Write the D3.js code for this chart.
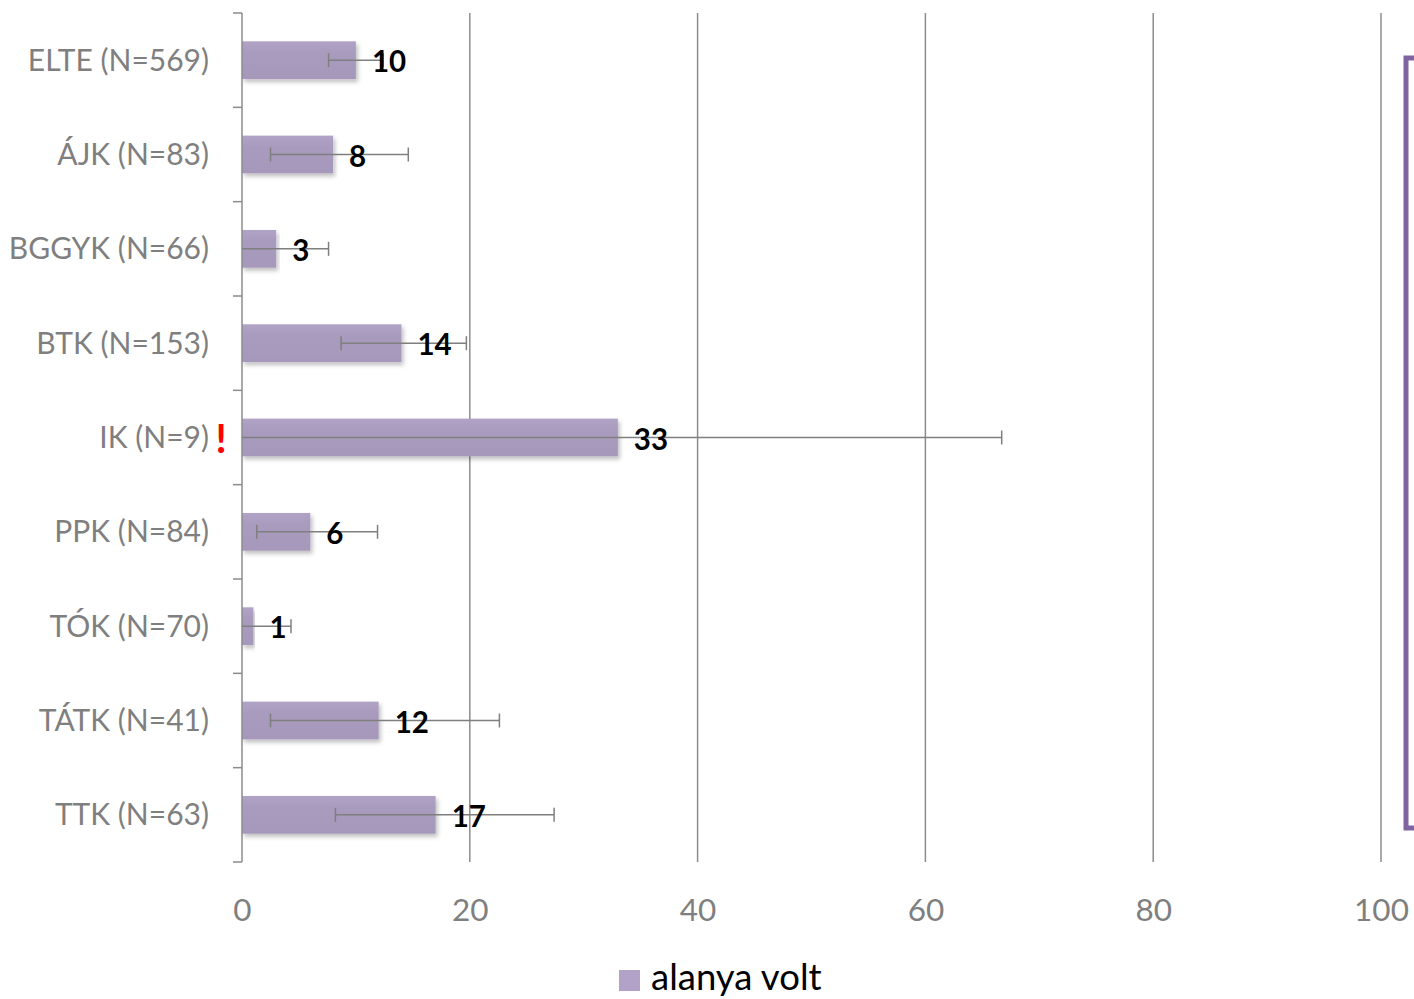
<!DOCTYPE html>
<html><head><meta charset="utf-8">
<script src="https://cdn.jsdelivr.net/npm/d3@7"></script>
<style>body{margin:0;background:#fff}svg{display:block}</style>
</head><body>
<svg id="c" width="1414" height="999"></svg>
<script>
const categories = ["ELTE (N=569)","ÁJK (N=83)","BGGYK (N=66)","BTK (N=153)","IK (N=9)","PPK (N=84)","TÓK (N=70)","TÁTK (N=41)","TTK (N=63)"];
const values = [10, 8, 3, 14, 33, 6, 1, 12, 17];
const errLow = [7.6, 2.5, 0, 8.7, 0, 1.3, 0, 2.5, 8.2];
const errHigh = [12.4, 14.6, 7.6, 19.7, 66.7, 11.9, 4.3, 22.6, 27.4];
const xTicks = [0, 20, 40, 60, 80, 100];
const seriesName = "alanya volt";
const flagged = ["IK (N=9)"];

const svg = d3.select("#c");
const m = {l: 242, r: 1381, t: 13, b: 862};
const x = d3.scaleLinear().domain([0, 100]).range([m.l, m.r]);
const y = d3.scaleBand().domain(categories).range([m.t, m.b]).paddingInner(0.6).paddingOuter(0.3);
const yb = d3.scaleBand().domain(categories).range([m.t, m.b]);
const font = "Lato, 'Open Sans', sans-serif";

const defs = svg.append("defs");
const f = defs.append("filter").attr("id","sh").attr("x","-5%").attr("y","-20%").attr("width","115%").attr("height","160%");
f.append("feDropShadow").attr("dx",2).attr("dy",3).attr("stdDeviation",2).attr("flood-color","#000").attr("flood-opacity",0.25);
const g1 = defs.append("linearGradient").attr("id","bg").attr("x1",0).attr("y1",0).attr("x2",0).attr("y2",1);
g1.append("stop").attr("offset","0").attr("stop-color","#b1a3c6");
g1.append("stop").attr("offset","0.3").attr("stop-color","#a99bbe");
g1.append("stop").attr("offset","1").attr("stop-color","#a698bb");

// gridlines
svg.append("g").selectAll("line").data(xTicks.filter(d => d > 0)).join("line")
  .attr("x1", d => x(d)).attr("x2", d => x(d)).attr("y1", m.t).attr("y2", m.b)
  .attr("stroke", "#8c8c8c").attr("stroke-width", 1.5);

// bars
svg.append("g").selectAll("rect").data(categories).join("rect")
  .attr("x", x(0)).attr("y", d => y(d))
  .attr("width", (d, i) => x(values[i]) - x(0)).attr("height", y.bandwidth())
  .attr("fill", "url(#bg)").attr("filter", "url(#sh)");

// y axis
const ya = d3.axisLeft(yb).tickSize(0).tickFormat("");
const yg = svg.append("g").attr("transform", `translate(${m.l},0)`).call(ya);
yg.select(".domain").attr("stroke", "#8c8c8c").attr("stroke-width", 1.5).attr("d", `M0,${m.t}V${m.b}`);
const bounds = d3.range(categories.length + 1).map(i => m.t + i * yb.step());
svg.append("g").selectAll("line").data(bounds).join("line")
  .attr("x1", m.l - 9).attr("x2", m.l).attr("y1", d => d).attr("y2", d => d)
  .attr("stroke", "#8c8c8c").attr("stroke-width", 1.5);

// category labels
svg.append("g").selectAll("text").data(categories).join("text")
  .attr("x", 209).attr("y", d => yb(d) + yb.bandwidth() / 2)
  .attr("dy", "0.35em").attr("text-anchor", "end")
  .attr("font-family", font).attr("font-size", 30).attr("fill", "#7f7f7f")
  .text(d => d);

// flag
svg.append("g").selectAll("text").data(flagged).join("text")
  .attr("x", 221).attr("y", d => yb(d) + yb.bandwidth() / 2).attr("dy", "0.38em")
  .attr("text-anchor", "middle").attr("font-family", font).attr("font-weight", "bold")
  .attr("font-size", 40).attr("fill", "#ff0000").text("!");

// error bars
const eg = svg.append("g").attr("stroke", "#7f7f7f").attr("stroke-width", 1.5);
categories.forEach((c, i) => {
  const cy = yb(c) + yb.bandwidth() / 2;
  eg.append("line").attr("x1", x(errLow[i])).attr("x2", x(errHigh[i])).attr("y1", cy).attr("y2", cy);
  if (errLow[i] > 0) eg.append("line").attr("x1", x(errLow[i])).attr("x2", x(errLow[i])).attr("y1", cy - 7).attr("y2", cy + 7);
  eg.append("line").attr("x1", x(errHigh[i])).attr("x2", x(errHigh[i])).attr("y1", cy - 7).attr("y2", cy + 7);
});

// value labels
svg.append("g").selectAll("text").data(categories).join("text")
  .attr("x", (d, i) => x(values[i]) + 16).attr("y", d => yb(d) + yb.bandwidth() / 2 + 2)
  .attr("dy", "0.35em").attr("font-family", font).attr("font-weight", "bold")
  .attr("font-size", 29.5).attr("fill", "#000").text((d, i) => values[i]);

// x axis labels
const xa = d3.axisBottom(x).tickValues(xTicks).tickSize(0).tickPadding(0);
const xg = svg.append("g").attr("transform", `translate(0,${m.b})`).call(xa);
xg.select(".domain").remove();
xg.selectAll("text").attr("y", 48).attr("dy", "0.35em").attr("font-family", font).attr("font-size", 31.5).attr("fill", "#7f7f7f");

// bracket
svg.append("path").attr("d", `M1414,58H1406V828H1414`).attr("fill", "none")
  .attr("stroke", "#8064a2").attr("stroke-width", 5);

// legend
svg.append("rect").attr("x", 619).attr("y", 970).attr("width", 21).attr("height", 21).attr("fill", "#b3a2c7");
svg.append("text").attr("x", 651).attr("y", 990).attr("font-family", font)
  .attr("font-size", 36.5).attr("fill", "#000").text(seriesName);
</script>
</body></html>
